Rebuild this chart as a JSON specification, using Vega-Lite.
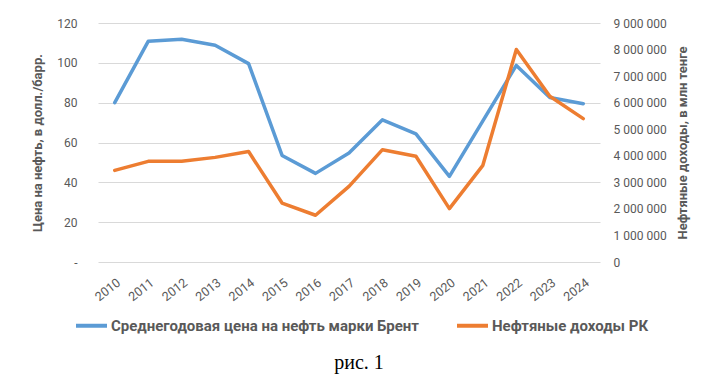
{
  "$schema": "https://vega.github.io/schema/vega-lite/v6.json",
  "autosize": "none",
  "width": 502,
  "height": 239,
  "padding": {"left": 98, "top": 23, "right": 117, "bottom": 115},
  "background": "white",
  "data": {
    "values": [
      {"year": "2010", "brent": 80.0, "revenue": 3450000},
      {"year": "2011", "brent": 110.8, "revenue": 3790000},
      {"year": "2012", "brent": 111.8, "revenue": 3790000},
      {"year": "2013", "brent": 108.8, "revenue": 3940000},
      {"year": "2014", "brent": 99.6, "revenue": 4160000},
      {"year": "2015", "brent": 53.5, "revenue": 2220000},
      {"year": "2016", "brent": 44.5, "revenue": 1760000},
      {"year": "2017", "brent": 54.7, "revenue": 2850000},
      {"year": "2018", "brent": 71.4, "revenue": 4230000},
      {"year": "2019", "brent": 64.3, "revenue": 3980000},
      {"year": "2020", "brent": 43.0, "revenue": 2010000},
      {"year": "2021", "brent": 70.9, "revenue": 3640000},
      {"year": "2022", "brent": 98.7, "revenue": 8000000},
      {"year": "2023", "brent": 82.6, "revenue": 6240000},
      {"year": "2024", "brent": 79.5, "revenue": 5400000}
    ]
  },
  "title": {
    "text": "рис. 1",
    "orient": "bottom",
    "anchor": "middle",
    "font": "Liberation Serif",
    "fontSize": 20,
    "fontWeight": "normal",
    "color": "#000000",
    "offset": 19,
    "dx": 10
  },
  "encoding": {
    "x": {
      "field": "year",
      "type": "ordinal",
      "scale": {"padding": 0.5},
      "axis": {
        "title": null,
        "labelAngle": -38,
        "labelFont": "Roboto",
        "labelFontSize": 12.5,
        "labelColor": "#595959",
        "labelPadding": 14,
        "domain": false,
        "ticks": false,
        "tickSize": 0,
        "grid": false
      }
    }
  },
  "layer": [
    {
      "mark": {"type": "line", "strokeWidth": 3.5, "strokeJoin": "round", "strokeCap": "round"},
      "encoding": {
        "y": {
          "field": "brent",
          "type": "quantitative",
          "scale": {"domain": [0, 120], "nice": false},
          "axis": {
            "title": "Цена на нефть, в долл./барр.",
            "titleFont": "Roboto",
            "titleFontSize": 13,
            "titleFontWeight": "bold",
            "titleColor": "#595959",
            "titlePadding": 12,
            "values": [0, 20, 40, 60, 80, 100, 120],
            "labelExpr": "datum.value === 0 ? '-\u00a0\u00a0' : datum.label",
            "labelFont": "Roboto",
            "labelFontSize": 12,
            "labelColor": "#595959",
            "labelPadding": 21,
            "domain": false,
            "ticks": false,
            "tickSize": 0,
            "grid": true,
            "gridColor": "#d9d9d9",
            "gridWidth": 1
          }
        },
        "color": {
          "datum": "Среднегодовая цена на нефть марки Брент",
          "type": "nominal",
          "scale": {
            "domain": ["Среднегодовая цена на нефть марки Брент", "Нефтяные доходы РК"],
            "range": ["#5b9bd5", "#ed7d31"]
          },
          "legend": {
            "title": null,
            "orient": "none",
            "legendX": -24,
            "legendY": 285,
            "direction": "horizontal",
            "symbolType": "stroke",
            "symbolSize": 961,
            "symbolStrokeWidth": 4,
            "labelOffset": 2,
            "columnPadding": 30,
            "labelFont": "Roboto",
            "labelFontSize": 15,
            "labelFontWeight": "bold",
            "labelColor": "#595959",
            "labelLimit": 0
          }
        }
      }
    },
    {
      "mark": {"type": "line", "strokeWidth": 3.5, "strokeJoin": "round", "strokeCap": "round"},
      "encoding": {
        "y": {
          "field": "revenue",
          "type": "quantitative",
          "scale": {"domain": [0, 9000000], "nice": false},
          "axis": {
            "orient": "right",
            "title": "Нефтяные доходы, в млн тенге",
            "titleFont": "Roboto",
            "titleFontSize": 13,
            "titleFontWeight": "bold",
            "titleColor": "#595959",
            "titleAngle": -90,
            "titleBaseline": "top",
            "titlePadding": 10,
            "values": [0, 1000000, 2000000, 3000000, 4000000, 5000000, 6000000, 7000000, 8000000, 9000000],
            "labelExpr": "replace(replace(format(datum.value, ','), ',', '\u00a0'), ',', '\u00a0')",
            "labelFont": "Roboto",
            "labelFontSize": 12,
            "labelColor": "#595959",
            "labelPadding": 13,
            "domain": false,
            "ticks": false,
            "tickSize": 0,
            "grid": false
          }
        },
        "color": {
          "datum": "Нефтяные доходы РК",
          "type": "nominal"
        }
      }
    }
  ],
  "resolve": {"scale": {"y": "independent"}},
  "config": {
    "view": {"stroke": null}
  }
}
